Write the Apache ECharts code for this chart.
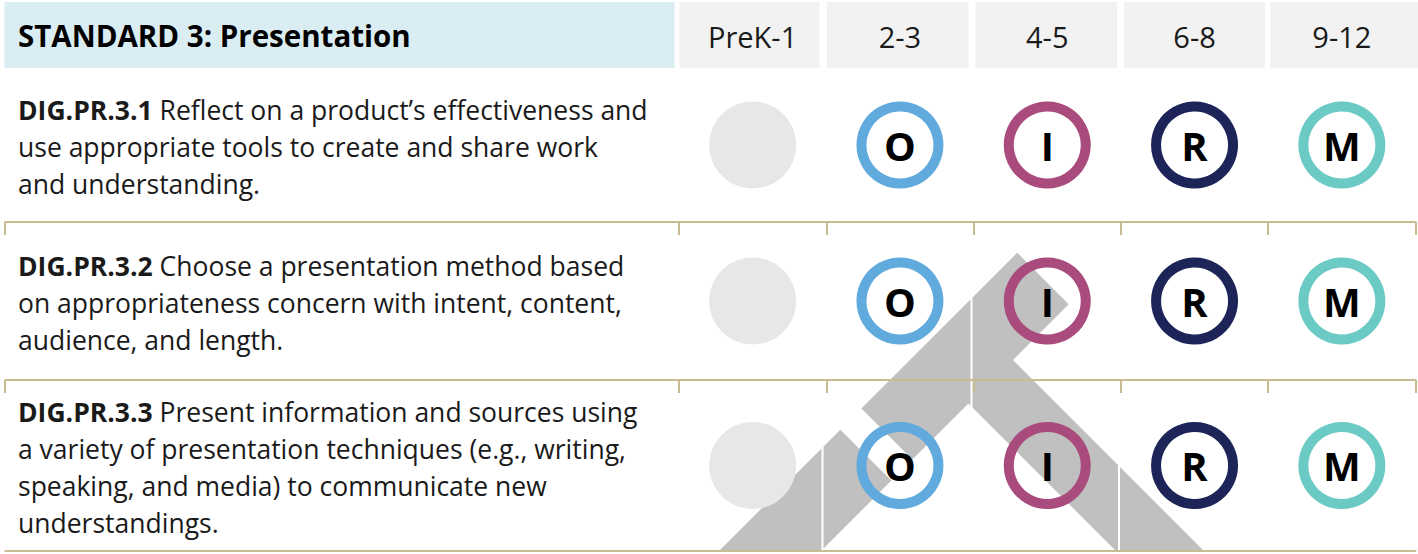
<!DOCTYPE html>
<html>
<head>
<meta charset="utf-8">
<script src="https://cdn.jsdelivr.net/npm/echarts@6/dist/echarts.min.js"></script>
<style>
  html, body { margin: 0; padding: 0; background: #ffffff; }
  #chart { width: 1418px; height: 554px; }
</style>
</head>
<body>
<div id="chart"></div>
<script>
// ---------------- data ----------------
const tableTitle = 'STANDARD 3: Presentation';
const grades = ['PreK-1', '2-3', '4-5', '6-8', '9-12'];
const codes = ['DIG.PR.3.1', 'DIG.PR.3.2', 'DIG.PR.3.3'];
const descriptions = [
  'Reflect on a product\u2019s effectiveness and\nuse appropriate tools to create and share work\nand understanding.',
  'Choose a presentation method based\non appropriateness concern with intent, content,\naudience, and length.',
  'Present information and sources using\na variety of presentation techniques (e.g., writing,\nspeaking, and media) to communicate new\nunderstandings.'
];
// level per grade band for each standard ('' = not addressed)
const levelsRow1 = ['', 'O', 'I', 'R', 'M'];
const levelsRow2 = ['', 'O', 'I', 'R', 'M'];
const levelsRow3 = ['', 'O', 'I', 'R', 'M'];
const rowLevels = [levelsRow1, levelsRow2, levelsRow3];
const levelColors = { O: '#60aadd', I: '#a94c7d', R: '#1c2458', M: '#6ccac5' };

// ---------------- layout ----------------
const FONT = 'Open Sans';
const TAN = '#c8bc90';
const TEXT = '#1a1a1a';
const gridLeft = 679, gridRightEdge = 1415.5;
const rows = [[68, 222], [222, 380], [380, 551]];

const chart = echarts.init(document.getElementById('chart'), null, { renderer: 'svg' });

const grids = rows.map(r => ({ left: gridLeft, width: gridRightEdge - gridLeft, top: r[0], height: r[1] - r[0] }));

const xAxes = [
  { // header labels
    type: 'category', gridIndex: 0, position: 'top', data: grades, z: 5,
    axisLine: { show: false }, axisTick: { show: false },
    axisLabel: { margin: 17, fontSize: 29, color: TEXT, fontFamily: FONT }
  }
];
rows.forEach((r, i) => {
  xAxes.push({
    type: 'category', gridIndex: i, position: 'bottom', data: grades, z: 5,
    axisLine: { show: true, lineStyle: { color: TAN, width: 2 } },
    axisTick: { show: i < 2, length: 13, lineStyle: { color: TAN, width: 2 } },
    axisLabel: { show: false },
    splitLine: { show: false }
  });
});

const yAxes = codes.map((c, i) => ({
  type: 'category', gridIndex: i, data: [c], z: 5,
  axisLine: { show: false }, axisTick: { show: false }, splitLine: { show: false },
  axisLabel: {
    align: 'left', margin: gridLeft - 18, padding: [4, 0, 0, 0],
    fontSize: 26.5, lineHeight: 37, color: TEXT, fontFamily: FONT,
    formatter: v => '{b|' + v + '} ' + descriptions[i],
    rich: { b: { fontWeight: 'bold', fontSize: 26.5, lineHeight: 37, color: TEXT, fontFamily: FONT } }
  }
}));

const series = codes.map((c, i) => ({
  type: 'scatter', xAxisIndex: i + 1, yAxisIndex: i, z: 3, silent: true,
  data: grades.map((g, j) => {
    const lv = rowLevels[i][j];
    if (!lv) {
      return { name: '', value: [g, c], symbolSize: 87, itemStyle: { color: '#e6e7e8', borderWidth: 0, opacity: 1 } };
    }
    return { name: lv, value: [g, c], symbolSize: 77,
      itemStyle: { color: 'rgba(255,255,255,0)', borderColor: levelColors[lv], borderWidth: 10, opacity: 1 } };
  }),
  itemStyle: { opacity: 1 },
  label: { show: true, position: 'inside', formatter: p => p.name, fontSize: 40, fontWeight: 'bold', color: '#000', fontFamily: FONT },
  emphasis: { disabled: true }
}));

// decorative layers
const headerCells = [[679.5, 140], [827, 141.5], [975.5, 141.5], [1124, 141], [1270, 148]];
const graphics = [
  { type: 'rect', z: 0, shape: { x: 4.5, y: 2, width: 670, height: 66 }, style: { fill: '#daedf3' } }
];
headerCells.forEach(h => graphics.push({ type: 'rect', z: 0, shape: { x: h[0], y: 2, width: h[1], height: 66 }, style: { fill: '#f2f2f2' } }));
// left parts of row separators
rows.forEach((r, i) => {
  graphics.push({ type: 'line', z: 5, shape: { x1: 4.5, y1: r[1], x2: gridLeft, y2: r[1] }, style: { stroke: TAN, lineWidth: 2 } });
  if (i < 2) graphics.push({ type: 'line', z: 5, shape: { x1: 5, y1: r[1], x2: 5, y2: r[1] + 13 }, style: { stroke: TAN, lineWidth: 2 } });
});
// watermark chevron
const WM = '#c0c0c0';
graphics.push({ type: 'polygon', z: 1, shape: { points: [
  [1017.2, 252.8], [1068.7, 304.3], [1013, 360], [1203, 550], [1115, 550],
  [968.5, 403.5], [912.4, 459.6], [861.4, 408.6]
] }, style: { fill: WM } });
graphics.push({ type: 'polygon', z: 1, shape: { points: [
  [840.3, 429.7], [891.4, 480.6], [822, 550], [720, 550]
] }, style: { fill: WM } });
// white column borders visible over the watermark
[821.5, 970.5, 1118].forEach(x => graphics.push({ type: 'rect', z: 1.5, shape: { x: x, y: 68, width: 2, height: 482 }, style: { fill: '#ffffff' } }));

chart.setOption({
  animation: false,
  backgroundColor: '#ffffff',
  title: { text: tableTitle, left: 18, top: 20, padding: 0, textStyle: { fontSize: 29.5, fontWeight: 'bold', color: '#000', fontFamily: FONT } },
  grid: grids,
  xAxis: xAxes,
  yAxis: yAxes,
  series: series,
  graphic: graphics
});
</script>
</body>
</html>
